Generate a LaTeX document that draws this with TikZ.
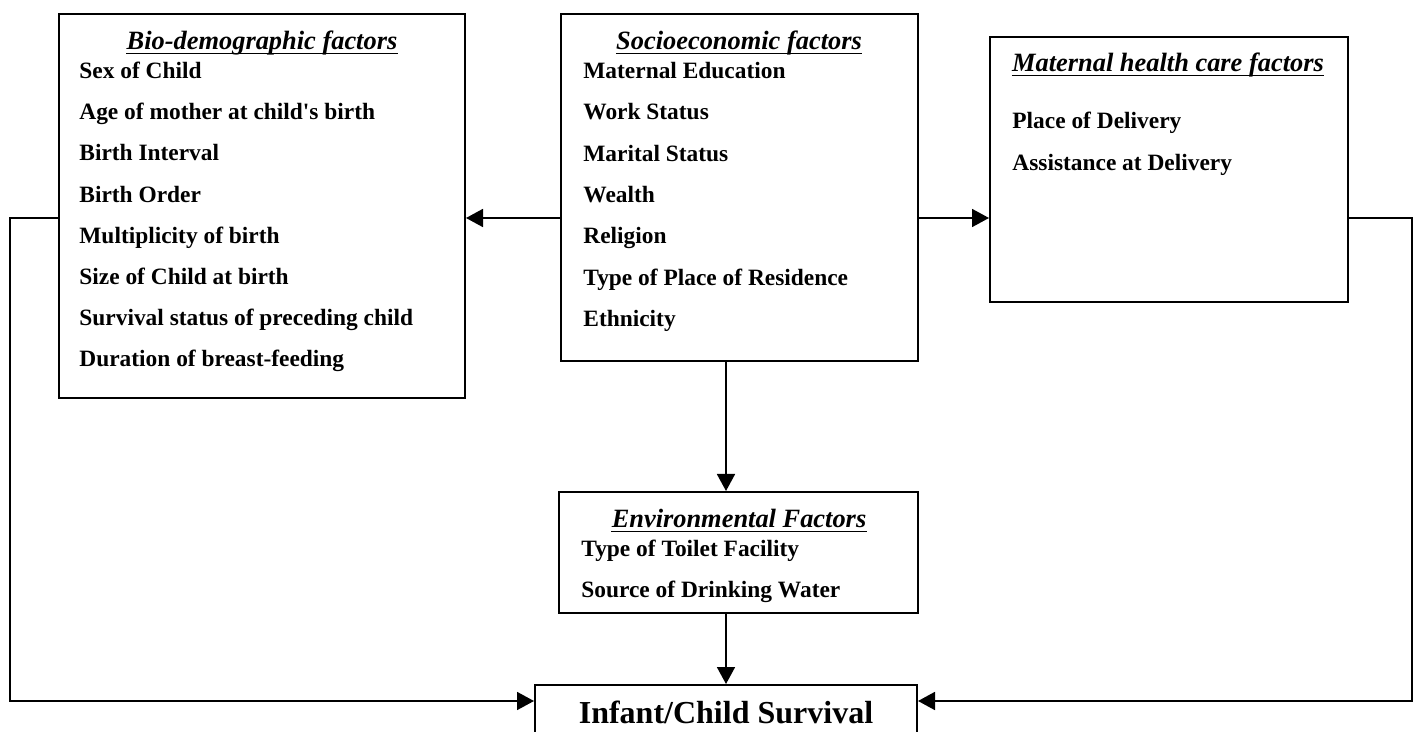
\documentclass[tikz,border=0pt]{standalone}
\usepackage{fontspec}
\setmainfont{Liberation Serif}
\usetikzlibrary{shapes,arrows.meta,positioning,fit}
\newcommand{\itemfont}{\fontsize{11.7}{14}\selectfont\bfseries}
\newcommand{\headfont}{\fontsize{13.2}{15}\selectfont\bfseries\itshape}
\newcommand{\bigfont}{\fontsize{16}{19}\selectfont\bfseries}

\begin{document}
\begin{tikzpicture}[x=0.5pt, y=-0.5pt,
    box/.style={draw, line width=1pt, inner sep=0pt},
    arr/.style={-{Triangle[length=8.5pt, width=9pt]}, line width=0.9pt},
    head/.style={font=\headfont, inner sep=0pt, anchor=base},
    item/.style={font=\itemfont, inner sep=0pt, anchor=base west},
    uline/.style={line width=0.6pt}]
    \clip (0,0) rectangle (1414,732);

    \node[box, fit={(59,14) (465,398)}] (bio) {};
    \node[box, fit={(561,14) (918,361)}] (socio) {};
    \node[box, fit={(990,37) (1348,302)}] (mat) {};
    \node[box, fit={(559,492) (918,613)}] (env) {};
    \node[box, fit={(535,685) (917,780)}] (infant) {};

    \node[head] (biohead) at (262,50) {Bio-demographic factors};
    \node[item] (bio1) at (79,79) {Sex of Child};
    \node[item] (bio2) at (79,120) {Age of mother at child\textquotesingle s birth};
    \node[item] (bio3) at (79,161) {Birth Interval};
    \node[item] (bio4) at (79,203) {Birth Order};
    \node[item] (bio5) at (79,244) {Multiplicity of birth};
    \node[item] (bio6) at (79,285) {Size of Child at birth};
    \node[item] (bio7) at (79,326) {Survival status of preceding child};
    \node[item] (bio8) at (79,367) {Duration of breast-feeding};

    \node[head] (sociohead) at (739,50) {Socioeconomic factors};
    \node[item] (socio1) at (583,79) {Maternal Education};
    \node[item] (socio2) at (583,120) {Work Status};
    \node[item] (socio3) at (583,162) {Marital Status};
    \node[item] (socio4) at (583,203) {Wealth};
    \node[item] (socio5) at (583,244) {Religion};
    \node[item] (socio6) at (583,286) {Type of Place of Residence};
    \node[item] (socio7) at (583,327) {Ethnicity};

    \node[head] (mathead) at (1168,72) {Maternal health care factors};
    \node[item] (mat1) at (1012,129) {Place of Delivery};
    \node[item] (mat2) at (1012,171) {Assistance at Delivery};

    \node[head] (envhead) at (739,528) {Environmental Factors};
    \node[item] (env1) at (581,556) {Type of Toilet Facility};
    \node[item] (env2) at (581,597) {Source of Drinking Water};

    \node[font=\bigfont, inner sep=0pt, anchor=base] (infanttext) at (726,723) {Infant/Child Survival};

    \foreach \h in {biohead, sociohead, mathead, envhead}
        \draw[uline] ([yshift=-1.6pt]\h.base west) -- ([yshift=-1.6pt]\h.base east);

    \coordinate (mid) at (0,218);
    \coordinate (low) at (0,701);
    \coordinate (lftbend) at (10,218);
    \coordinate (rgtbend) at (1412,218);

    \draw[arr] (socio.west |- mid) -- (bio.east |- mid);
    \draw[arr] (socio.east |- mid) -- (mat.west |- mid);
    \draw[arr] (socio.south -| infant) -- (env.north -| infant);
    \draw[arr] (env.south -| infant) -- (infant.north);
    \draw[arr] (bio.west |- mid) -- (lftbend) |- (infant.west |- low);
    \draw[arr] (mat.east |- mid) -- (rgtbend) |- (infant.east |- low);
\end{tikzpicture}
\end{document}
